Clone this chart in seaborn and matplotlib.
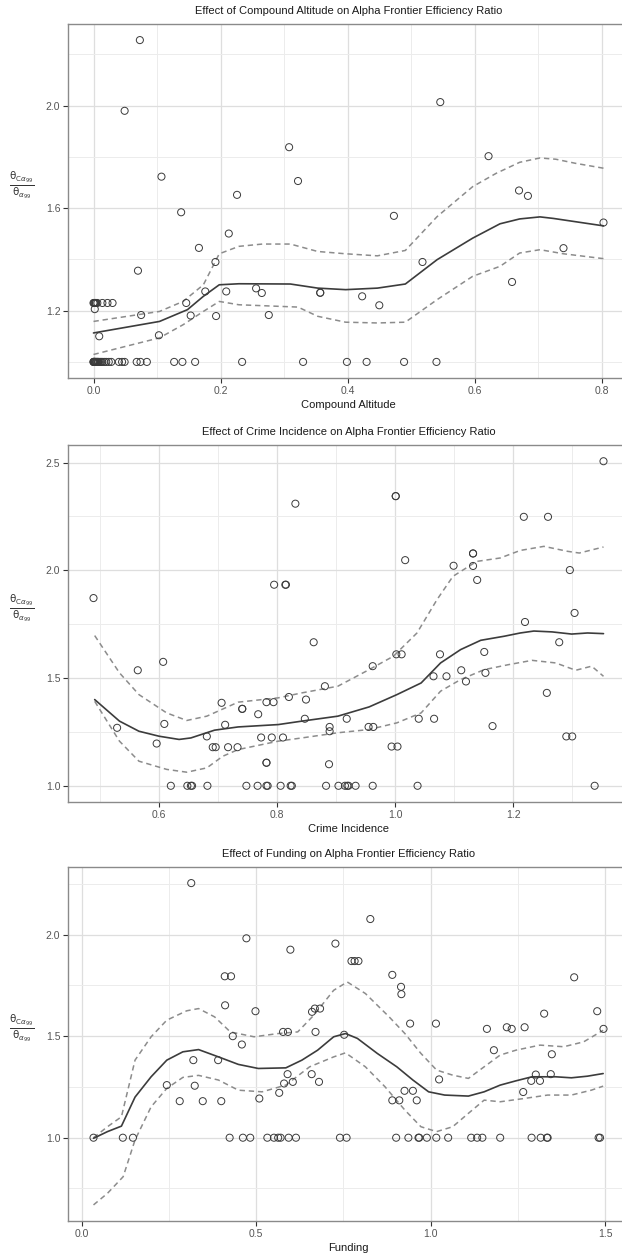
import matplotlib
matplotlib.use("Agg")
import matplotlib.pyplot as plt
from matplotlib.ticker import MultipleLocator, FixedLocator
import seaborn as sns

# ---------------- data: Compound Altitude ----------------
alt_x = [0.073, 0.049, 0.546, 0.308, 0.622, 0.107, 0.322, 0.226, 0.138, 0.473,
         0.670, 0.684, 0.803, 0.213, 0.166, 0.740, 0.070, 0.192, 0.518, 0.659,
         0.176, 0.209, 0.256, 0.265, 0.357, 0.357, 0.423, 0.450, 0.146, 0.153,
         0.075, 0.193, 0.276, 0.103, 0.009, 0.002,
         0.000, 0.001, 0.002, 0.003, 0.004, 0.006, 0.014, 0.022, 0.030,
         0.000, 0.000, 0.001, 0.001, 0.002, 0.002, 0.003, 0.004, 0.005, 0.006,
         0.007, 0.008, 0.010, 0.012, 0.014, 0.017, 0.020, 0.024, 0.028,
         0.040, 0.045, 0.049, 0.068, 0.074, 0.084, 0.127, 0.140, 0.160,
         0.234, 0.330, 0.399, 0.430, 0.489, 0.540]
alt_y = [2.256, 1.980, 2.014, 1.838, 1.803, 1.723, 1.706, 1.652, 1.584, 1.570,
         1.669, 1.648, 1.544, 1.501, 1.445, 1.444, 1.356, 1.390, 1.390, 1.312,
         1.275, 1.275, 1.287, 1.269, 1.270, 1.270, 1.256, 1.221, 1.230, 1.181,
         1.183, 1.179, 1.183, 1.104, 1.100, 1.206,
         1.230, 1.230, 1.230, 1.230, 1.230, 1.230, 1.230, 1.230, 1.230,
         1.0, 1.0, 1.0, 1.0, 1.0, 1.0, 1.0, 1.0, 1.0, 1.0,
         1.0, 1.0, 1.0, 1.0, 1.0, 1.0, 1.0, 1.0, 1.0,
         1.0, 1.0, 1.0, 1.0, 1.0, 1.0, 1.0, 1.0, 1.0,
         1.0, 1.0, 1.0, 1.0, 1.0, 1.0]
alt_fit_x = [0.0, 0.104, 0.148, 0.173, 0.198, 0.229, 0.31, 0.353, 0.397, 0.447,
             0.491, 0.541, 0.597, 0.64, 0.671, 0.703, 0.724, 0.803]
alt_fit_y = [1.113, 1.158, 1.204, 1.256, 1.301, 1.305, 1.304, 1.288, 1.282, 1.288,
             1.304, 1.399, 1.483, 1.539, 1.558, 1.566, 1.560, 1.531]
alt_hi_x = [0.0, 0.104, 0.141, 0.173, 0.198, 0.229, 0.266, 0.31, 0.353, 0.397,
            0.447, 0.491, 0.541, 0.597, 0.634, 0.671, 0.703, 0.728, 0.759, 0.803]
alt_hi_y = [1.158, 1.197, 1.236, 1.301, 1.422, 1.451, 1.460, 1.460, 1.431, 1.422,
            1.414, 1.435, 1.567, 1.684, 1.736, 1.779, 1.796, 1.791, 1.775, 1.756]
alt_lo_x = [0.0, 0.104, 0.141, 0.173, 0.198, 0.229, 0.291, 0.322, 0.353, 0.397,
            0.447, 0.491, 0.541, 0.597, 0.64, 0.671, 0.703, 0.740, 0.803]
alt_lo_y = [1.029, 1.094, 1.145, 1.197, 1.236, 1.223, 1.217, 1.214, 1.178, 1.155,
            1.152, 1.155, 1.243, 1.334, 1.373, 1.425, 1.438, 1.422, 1.403]

# ---------------- data: Crime Incidence ----------------
crime_x = [0.489, 0.529, 0.564, 0.596, 0.607, 0.609, 0.620, 0.648, 0.654, 0.656,
           0.681, 0.682, 0.691, 0.696, 0.706, 0.712, 0.717, 0.733, 0.741, 0.741,
           0.748, 0.767, 0.768, 0.773, 0.782, 0.782, 0.782, 0.794, 0.782, 0.784,
           0.791, 0.795, 0.806, 0.810, 0.814, 0.815, 0.820, 0.823, 0.825, 0.831,
           0.847, 0.849, 0.862, 0.881, 0.883, 0.889, 0.889, 0.888, 0.904, 0.915,
           0.919, 0.921, 0.918, 0.933, 0.955, 0.963, 0.962, 0.962, 0.994, 1.004,
           1.001, 1.001, 1.002, 1.011, 1.017, 1.038, 1.040, 1.065, 1.066, 1.076,
           1.087, 1.099, 1.112, 1.120, 1.132, 1.132, 1.132, 1.139, 1.151, 1.153,
           1.165, 1.218, 1.220, 1.259, 1.257, 1.278, 1.290, 1.300, 1.296, 1.304,
           1.338, 1.353]
crime_y = [1.871, 1.269, 1.536, 1.196, 1.575, 1.287, 1.0, 1.0, 1.0, 1.0,
           1.229, 1.0, 1.179, 1.179, 1.385, 1.283, 1.179, 1.179, 1.357, 1.357,
           1.0, 1.0, 1.332, 1.224, 1.107, 1.107, 1.388, 1.388, 1.0, 1.0,
           1.224, 1.933, 1.0, 1.224, 1.933, 1.933, 1.412, 1.0, 1.0, 2.309,
           1.311, 1.400, 1.666, 1.462, 1.0, 1.273, 1.253, 1.100, 1.0, 1.0,
           1.0, 1.0, 1.311, 1.0, 1.273, 1.273, 1.555, 1.0, 1.182, 1.182,
           2.344, 2.344, 1.610, 1.610, 2.047, 1.0, 1.311, 1.508, 1.311, 1.610,
           1.508, 2.021, 1.536, 1.484, 2.078, 2.078, 2.020, 1.955, 1.621, 1.524,
           1.277, 2.248, 1.760, 2.248, 1.431, 1.666, 1.229, 1.229, 2.001, 1.802,
           1.0, 2.506]
crime_fit_x = [0.491, 0.533, 0.566, 0.6, 0.634, 0.654, 0.694, 0.734, 0.802, 0.842,
               0.903, 0.956, 1.003, 1.044, 1.077, 1.111, 1.145, 1.185, 1.212, 1.235,
               1.266, 1.299, 1.326, 1.353]
crime_fit_y = [1.400, 1.300, 1.253, 1.230, 1.215, 1.222, 1.258, 1.273, 1.284, 1.300,
               1.323, 1.366, 1.423, 1.477, 1.570, 1.632, 1.675, 1.694, 1.709, 1.718,
               1.714, 1.704, 1.709, 1.706]
crime_hi_x = [0.491, 0.533, 0.566, 0.613, 0.647, 0.681, 0.734, 0.802, 0.842, 0.903,
              0.956, 0.997, 1.037, 1.071, 1.098, 1.138, 1.178, 1.212, 1.252, 1.292,
              1.312, 1.353]
crime_hi_y = [1.697, 1.524, 1.423, 1.338, 1.303, 1.323, 1.388, 1.408, 1.431, 1.462,
              1.539, 1.601, 1.709, 1.864, 1.972, 2.041, 2.057, 2.092, 2.111, 2.088,
              2.080, 2.108]
crime_lo_x = [0.491, 0.533, 0.566, 0.613, 0.647, 0.681, 0.708, 0.734, 0.802, 0.842,
              0.903, 0.956, 1.003, 1.044, 1.077, 1.111, 1.151, 1.192, 1.232, 1.272,
              1.306, 1.333, 1.353]
crime_lo_y = [1.392, 1.207, 1.114, 1.076, 1.063, 1.083, 1.137, 1.168, 1.207, 1.222,
              1.246, 1.261, 1.292, 1.338, 1.439, 1.493, 1.539, 1.562, 1.582, 1.570,
              1.536, 1.555, 1.508]

# ---------------- data: Funding ----------------
fund_x = [0.034, 0.118, 0.147, 0.244, 0.281, 0.314, 0.320, 0.324, 0.347, 0.391,
          0.400, 0.410, 0.428, 0.411, 0.433, 0.424, 0.459, 0.462, 0.483, 0.472,
          0.498, 0.509, 0.532, 0.551, 0.563, 0.570, 0.593, 0.614, 0.566, 0.577,
          0.591, 0.580, 0.590, 0.605, 0.598, 0.659, 0.660, 0.668, 0.683, 0.670,
          0.680, 0.727, 0.740, 0.759, 0.752, 0.773, 0.782, 0.793, 0.827, 0.890,
          0.890, 0.910, 0.901, 0.915, 0.916, 0.925, 0.949, 0.936, 0.941, 0.960,
          0.965, 0.967, 0.989, 1.016, 1.050, 1.015, 1.024, 1.116, 1.133, 1.148,
          1.161, 1.181, 1.199, 1.218, 1.232, 1.265, 1.269, 1.289, 1.315, 1.288,
          1.301, 1.313, 1.325, 1.333, 1.335, 1.344, 1.347, 1.411, 1.477, 1.481,
          1.485, 1.495]
fund_y = [1.0, 1.0, 1.0, 1.259, 1.180, 2.254, 1.382, 1.256, 1.180, 1.382,
          1.180, 1.795, 1.795, 1.652, 1.500, 1.0, 1.459, 1.0, 1.0, 1.982,
          1.623, 1.193, 1.0, 1.0, 1.0, 1.0, 1.0, 1.0, 1.221, 1.521,
          1.521, 1.267, 1.313, 1.275, 1.926, 1.313, 1.620, 1.636, 1.636, 1.521,
          1.275, 1.956, 1.0, 1.0, 1.507, 1.870, 1.870, 1.870, 2.077, 1.802,
          1.184, 1.184, 1.0, 1.743, 1.707, 1.231, 1.231, 1.0, 1.562, 1.184,
          1.0, 1.0, 1.0, 1.0, 1.0, 1.562, 1.287, 1.0, 1.0, 1.0,
          1.536, 1.431, 1.0, 1.544, 1.536, 1.225, 1.544, 1.0, 1.0, 1.280,
          1.311, 1.280, 1.611, 1.0, 1.0, 1.313, 1.411, 1.790, 1.623, 1.0,
          1.0, 1.536]
fund_fit_x = [0.034, 0.074, 0.114, 0.153, 0.199, 0.244, 0.29, 0.335, 0.392, 0.449,
              0.506, 0.585, 0.631, 0.676, 0.722, 0.756, 0.790, 0.847, 0.903, 0.949,
              0.994, 1.040, 1.108, 1.153, 1.199, 1.244, 1.290, 1.358, 1.403, 1.449,
              1.494]
fund_fit_y = [0.997, 1.030, 1.057, 1.200, 1.300, 1.382, 1.423, 1.434, 1.398, 1.361,
              1.341, 1.344, 1.382, 1.431, 1.497, 1.513, 1.489, 1.415, 1.349, 1.284,
              1.226, 1.210, 1.205, 1.226, 1.259, 1.280, 1.300, 1.300, 1.295, 1.303,
              1.316]
fund_hi_x = [0.034, 0.074, 0.114, 0.153, 0.199, 0.244, 0.301, 0.335, 0.381, 0.426,
             0.494, 0.563, 0.619, 0.665, 0.722, 0.761, 0.813, 0.881, 0.926, 0.972,
             1.017, 1.063, 1.108, 1.153, 1.199, 1.244, 1.313, 1.381, 1.438, 1.494]
fund_hi_y = [1.0, 1.054, 1.103, 1.382, 1.497, 1.579, 1.625, 1.636, 1.595, 1.521,
             1.497, 1.513, 1.521, 1.603, 1.726, 1.767, 1.710, 1.595, 1.513, 1.415,
             1.333, 1.308, 1.292, 1.349, 1.407, 1.431, 1.456, 1.448, 1.472, 1.529]
fund_lo_x = [0.034, 0.074, 0.119, 0.153, 0.199, 0.244, 0.29, 0.335, 0.392, 0.449,
             0.517, 0.585, 0.653, 0.722, 0.756, 0.813, 0.869, 0.926, 0.972, 1.017,
             1.063, 1.108, 1.153, 1.199, 1.267, 1.335, 1.403, 1.460, 1.494]
fund_lo_y = [0.669, 0.726, 0.808, 0.989, 1.152, 1.243, 1.297, 1.307, 1.284, 1.234,
             1.226, 1.259, 1.349, 1.398, 1.418, 1.349, 1.251, 1.136, 1.054, 1.030,
             1.054, 1.120, 1.185, 1.177, 1.193, 1.210, 1.210, 1.234, 1.254]

# upright theta / C like the original label
YLABEL = r'$\frac{\mathrm{\theta}_{\mathrm{C}\alpha_{99}}}{\mathrm{\theta}_{\alpha_{99}}}$'


def expand(values, mult=0.05):
    lo, hi = min(values), max(values)
    pad = (hi - lo) * mult
    return lo - pad, hi + pad


def draw_panel(ax, name, px, py, fit, hi, lo, xticks, yticks):
    sns.lineplot(x=hi[0], y=hi[1], ax=ax, color='#8c8c8c', lw=1.1,
                 linestyle=(0, (3.5, 2.5)), estimator=None)
    sns.lineplot(x=lo[0], y=lo[1], ax=ax, color='#8c8c8c', lw=1.1,
                 linestyle=(0, (3.5, 2.5)), estimator=None)
    sns.lineplot(x=fit[0], y=fit[1], ax=ax, color='#3c3c3c', lw=1.2, estimator=None)
    sns.scatterplot(x=px, y=py, ax=ax, marker='o', s=26, facecolor='none',
                    edgecolor='#3a3a3a', linewidth=0.7, zorder=3)

    all_x = px + fit[0] + hi[0] + lo[0]
    all_y = py + fit[1] + hi[1] + lo[1]
    ax.set_xlim(*expand(all_x))
    ax.set_ylim(*expand(all_y))

    ax.xaxis.set_major_locator(FixedLocator(xticks))
    ax.yaxis.set_major_locator(FixedLocator(yticks))
    ax.xaxis.set_minor_locator(MultipleLocator((xticks[1] - xticks[0]) / 2))
    ax.yaxis.set_minor_locator(MultipleLocator((yticks[1] - yticks[0]) / 2))
    ax.set_xticklabels([f'{t:.1f}' for t in xticks])
    ax.set_yticklabels([f'{t:.1f}' for t in yticks])

    ax.grid(which='major', color='#dedede', lw=0.9)
    ax.grid(which='minor', color='#ececec', lw=0.7)
    ax.set_axisbelow(True)
    ax.tick_params(which='major', length=3.5, width=0.8, color='#333333',
                   labelsize=7.5, labelcolor='#555555', pad=2, left=True, bottom=True)
    ax.tick_params(which='minor', length=0)
    for s in ax.spines.values():
        s.set_color('#8a8a8a')
        s.set_linewidth(1.0)

    ax.set_title(f'Effect of {name} on Alpha Frontier Efficiency Ratio',
                 fontsize=8, pad=7, color='#1a1a1a')
    ax.set_xlabel(name, fontsize=8, color='#1a1a1a', labelpad=3)
    ax.set_ylabel(YLABEL, fontsize=10.5, rotation=0, color='#333333')
    ax.yaxis.set_label_coords(-0.083, 0.5)


sns.set_theme(style="whitegrid")
plt.rcParams['font.family'] = ['Liberation Sans', 'DejaVu Sans']
plt.rcParams['mathtext.fontset'] = 'dejavusans'

W, H = 622, 1259
fig = plt.figure(figsize=(W / 100, H / 100), dpi=100)
fig.patch.set_facecolor('white')


def add_axes(top_px, bottom_px, left_px=68, right_px=629):
    return fig.add_axes([left_px / W, 1 - bottom_px / H,
                         (right_px - left_px) / W, (bottom_px - top_px) / H])


ax1 = add_axes(24, 378)
ax2 = add_axes(445, 802)
ax3 = add_axes(867, 1221)

draw_panel(ax1, 'Compound Altitude', alt_x, alt_y,
           (alt_fit_x, alt_fit_y), (alt_hi_x, alt_hi_y), (alt_lo_x, alt_lo_y),
           [0.0, 0.2, 0.4, 0.6, 0.8], [1.2, 1.6, 2.0])
draw_panel(ax2, 'Crime Incidence', crime_x, crime_y,
           (crime_fit_x, crime_fit_y), (crime_hi_x, crime_hi_y), (crime_lo_x, crime_lo_y),
           [0.6, 0.8, 1.0, 1.2], [1.0, 1.5, 2.0, 2.5])
draw_panel(ax3, 'Funding', fund_x, fund_y,
           (fund_fit_x, fund_fit_y), (fund_hi_x, fund_hi_y), (fund_lo_x, fund_lo_y),
           [0.0, 0.5, 1.0, 1.5], [1.0, 1.5, 2.0])

fig.savefig('out.png', dpi=100)
